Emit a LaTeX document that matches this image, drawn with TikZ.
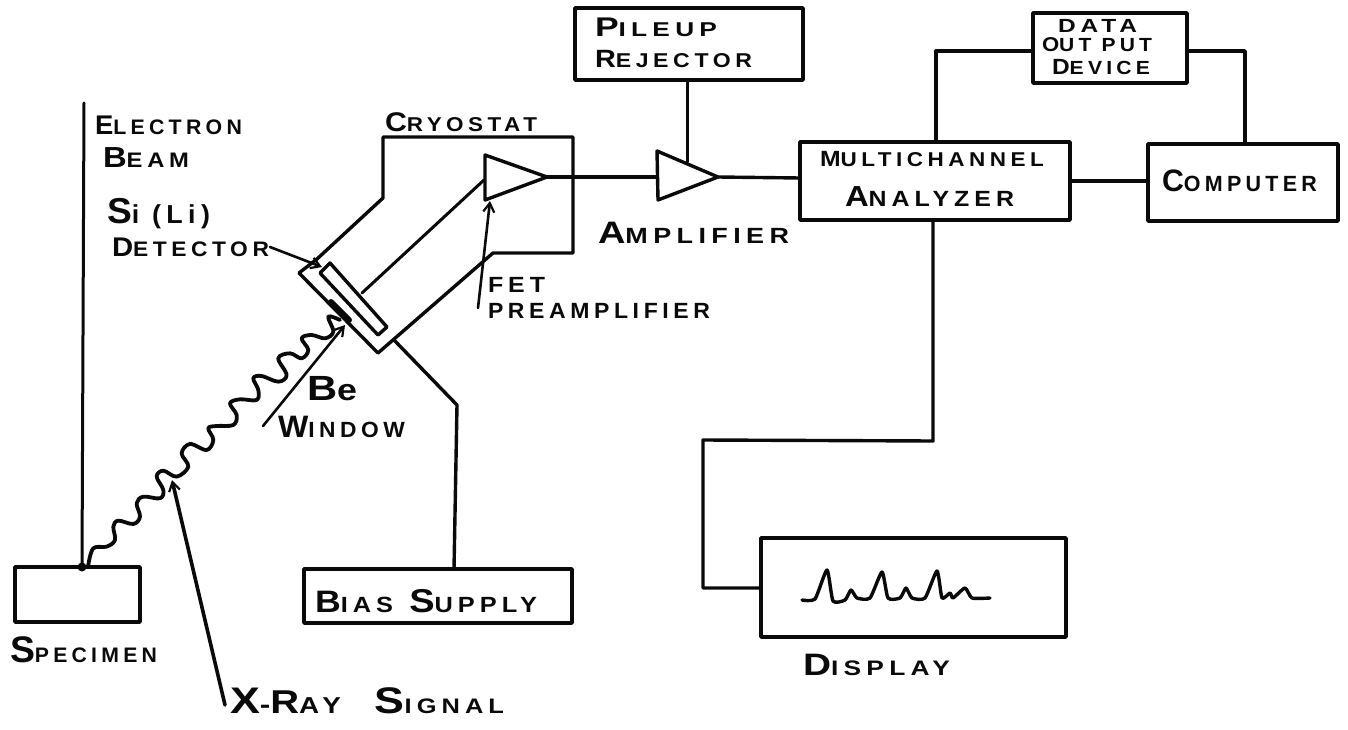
\documentclass[tikz,border=0pt]{standalone}
\usepackage{graphicx}
\usepackage{fontspec}
\newfontfamily\handfont[LetterSpace=20]{Liberation Sans Bold}
\usetikzlibrary{arrows.meta}
\newcommand{\fsz}[1]{\fontsize{#1}{#1}\selectfont}
% first size, first letter, rest size, rest, target width
\newcommand{\hw}[5]{\resizebox{#5pt}{\height}{\handfont\fsz{#1}#2\fsz{#3}#4}}
\tikzset{
  box/.style={draw=ink,line width=3.6pt,line join=round,inner sep=0pt,outer sep=0pt,anchor=north west,fill=white},
  wire/.style={draw=ink,line width=3.4pt,line join=round,line cap=round},
  thinwire/.style={draw=ink,line width=3pt,line join=round,line cap=round},
  leader/.style={draw=ink,line width=2.6pt,line cap=round,-{Straight Barb[length=9pt,width=11pt,line width=2.2pt]}},
  lab/.style={anchor=base west,inner sep=0pt,outer sep=0pt,text=ink},
}
\definecolor{ink}{gray}{0.04}
\begin{document}
\begin{tikzpicture}[x=1pt,y=-1pt]
\useasboundingbox (0,0) rectangle (1348,730);
% boxes
\node[box,minimum width=125pt,minimum height=55pt] (spec) at (15,567) {};
\node[box,minimum width=268pt,minimum height=54pt] (bias) at (304,569) {};
\node[box,minimum width=228pt,minimum height=72pt] (pile) at (575,8) {};
\node[box,minimum width=270pt,minimum height=78pt] (mca) at (800,142) {};
\node[box,minimum width=154pt,minimum height=70pt] (data) at (1033,13) {};
\node[box,minimum width=190pt,minimum height=77pt] (comp) at (1148,144) {};
\node[box,minimum width=305pt,minimum height=99pt] (disp) at (761,538) {};
% free points
\coordinate (beamTop) at (84,103);
\coordinate (beamEnd) at (82,567);
\coordinate (paA) at (485,155);
\coordinate (paB) at (547,177);
\coordinate (paC) at (485,200);
\coordinate (amA) at (657,151);
\coordinate (amB) at (718,177);
\coordinate (amC) at (658,200);
\coordinate (amStem) at (687,162);
\coordinate (amIn) at (657,177);
\coordinate (paIn) at (484,180);
\coordinate (detOut) at (362,293);
\coordinate (crA) at (317,259);
\coordinate (crB) at (383,198);
\coordinate (crC) at (383,137);
\coordinate (crD) at (573,137);
\coordinate (crE) at (573,253);
\coordinate (crF) at (493,253);
\coordinate (crG) at (378,353);
\coordinate (crH) at (299,273);
\coordinate (biasTap) at (394,340);
\coordinate (biasBend) at (457,405);
% cryostat outline and window
\draw[wire] (crH) -- (crA) -- (crB) -- (crC) -- (crD) -- (crE) -- (crF) -- (crG) -- (crH);
\draw[wire] (320,273) -- (330,263) -- (387,327) -- (378,335) -- cycle;
\draw[draw=ink,line width=6pt,line cap=round] (331,302) -- (349,320);
% preamplifier and amplifier
\draw[wire] (paA) -- (paB) -- (paC) -- cycle;
\draw[wire] (amA) -- (amB) -- (amC) -- cycle;
\draw[thinwire] (detOut) -- (paIn);
\draw[wire] (paB) -- (amIn);
\draw[wire] (amB) -- (mca.west |- 0,178);
\draw[thinwire] (pile.south -| 687,0) -- (amStem);
\draw[wire] (mca.east |- 0,181) -- (comp.west |- 0,181);
\draw[wire] (mca.north -| 936,0) |- (data.west |- 0,51);
\draw[wire] (data.east |- 0,51) -| (comp.north -| 1245,0);
\draw[wire] (mca.south -| 933,0) -- (933,441) -- (703,440) -- (703,588) -- (disp.west |- 0,588);
\draw[wire] (biasTap) -- (biasBend) -- (bias.north -| 454,0);
% beam
\draw[thinwire] (beamTop) -- (beamEnd);
\fill[ink] (beamEnd) circle (4.5pt);
% x-ray wave
\begin{scope}[x=0.3333pt,y=-0.3333pt,yshift=-300pt]
\draw[wire,line width=3.8pt] plot[smooth,tension=0.6] coordinates {(265,795) (280,745) (320,740) (345,720) (340,680) (355,662) (400,672) (420,650) (410,610) (430,590) (480,595) (490,570) (470,530) (490,512) (530,530) (565,500) (545,460) (570,432) (620,450) (640,420) (625,385) (650,378) (700,375) (710,345) (690,310) (720,298) (770,300) (775,270) (760,235) (785,228) (835,245) (860,225) (835,175) (870,160) (905,175) (925,150) (905,115) (935,105) (975,115) (1000,95) (985,50) (1020,60)};
\end{scope}
% spectrum
\draw[wire] plot[smooth,tension=0.35] coordinates {(802,600) (815,599) (827,570) (833,601) (845,600) (851,590) (857,598) (870,598) (882,572) (888,598) (900,598) (906,588) (912,598) (925,598) (937,571) (942,598) (950,593) (953,598) (965,588) (972,598) (990,598)};
% leaders
\coordinate (detTail) at (270,247);
\coordinate (detHead) at (322,267);
\coordinate (fetTail) at (478,308);
\coordinate (fetHead) at (490,201);
\coordinate (winTail) at (263,426);
\coordinate (winHead) at (345,325);
\coordinate (xTail) at (225,705);
\coordinate (xHead) at (172,480);
\draw[leader] (detTail) -- (detHead);
\draw[leader] (fetTail) -- (fetHead);
\draw[leader] (winTail) -- (winHead);
\draw[leader,line width=3.6pt] (xTail) -- (xHead);
% labels
\node[lab] (tElectron) at (95,135) {\hw{27}{E}{21}{LECTRON}{147}};
\node[lab] (tBeam) at (103,168) {\hw{29}{B}{21}{EAM}{86}};
\node[lab] (tSi) at (107,223) {\hw{36}{S}{26}{i (Li)}{103}};
\node[lab] (tDet) at (112,256) {\hw{27}{D}{21}{ETECTOR}{157}};
\node[lab] (tCryo) at (385,132) {\hw{27}{C}{20}{RYOSTAT}{152}};
\node[lab] (tFet) at (488,292) {\hw{22}{F}{22}{ET}{57}};
\node[lab] (tPre) at (488,318) {\hw{22}{P}{22}{REAMPLIFIER}{222}};
\node[lab] (tBe) at (307,400) {\hw{35}{B}{30}{e}{50}};
\node[lab] (tWin) at (278,437) {\hw{31}{W}{22}{INDOW}{127}};
\node[lab] (tSpec) at (10,662) {\hw{37}{S}{21}{PECIMEN}{147}};
\node[lab] (tXray) at (230,713) {\resizebox{274pt}{\height}{\handfont\fsz{37}X\fsz{26}-\fsz{33}R\fsz{23}AY\hspace{28pt}\fsz{37}S\fsz{21}IGNAL}};
\node[lab] (tBias) at (315,612) {\resizebox{222pt}{\height}{\handfont\fsz{31}B\fsz{22}IAS\hspace{14pt}\fsz{33}S\fsz{22}UPPLY}};
\node[lab] (tAmp) at (598,243) {\hw{31}{A}{22}{MPLIFIER}{191}};
\node[lab] (tPile) at (595,37) {\hw{27}{P}{20}{ILEUP}{122}};
\node[lab] (tRej) at (595,68) {\hw{25}{R}{20}{EJECTOR}{157}};
\node[lab] (tMulti) at (820,167) {\hw{22}{M}{20}{ULTICHANNEL}{224}};
\node[lab] (tAna) at (845,207) {\hw{29}{A}{22}{NALYZER}{169}};
\node[lab] (tComp) at (1162,192) {\hw{31}{C}{22}{OMPUTER}{155}};
\node[lab] (tDisp) at (803,675) {\hw{31}{D}{21}{ISPLAY}{147}};
\node[lab] (tData) at (1058,33) {\hw{19}{D}{19}{ATA}{79}};
\node[lab] (tOut) at (1042,52) {\hw{20}{O}{19}{UT PUT}{110}};
\node[lab] (tDev) at (1052,75) {\hw{22}{D}{19}{EVICE}{98}};
\end{tikzpicture}
\end{document}
